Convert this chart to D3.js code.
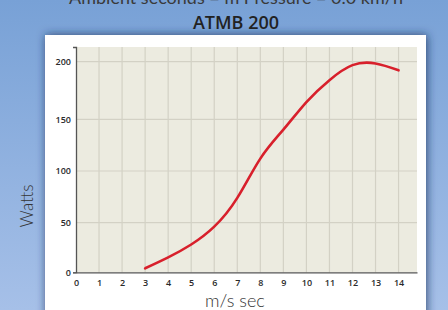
<!DOCTYPE html>
<html>
<head>
<meta charset="utf-8">
<script src="https://cdn.jsdelivr.net/npm/d3@7"></script>
<style>
  html, body { margin: 0; padding: 0; overflow: hidden; }
  svg { display: block; }
</style>
</head>
<body>
<svg id="chart" width="448" height="310"></svg>
<script>
// wind speed (m/s) and power output (W)
const windSpeed = [3, 4, 5, 6, 7, 8, 9, 10, 11, 12, 13, 14];
const watts = [4, 15, 28, 46, 74, 112, 140, 165, 184, 197, 198.5, 192.5];
const xTicks = [0, 1, 2, 3, 4, 5, 6, 7, 8, 9, 10, 11, 12, 13, 14];
const yTicks = [0, 50, 100, 150, 200];

const svg = d3.select('#chart');
const W = 448, H = 310;

const defs = svg.append('defs');
const bg = defs.append('linearGradient')
  .attr('id', 'bg').attr('x1', 0).attr('y1', 0).attr('x2', 0).attr('y2', 1);
bg.append('stop').attr('offset', '0%').attr('stop-color', '#78a1d6');
bg.append('stop').attr('offset', '100%').attr('stop-color', '#a6c0e8');

const shadow = defs.append('filter').attr('id', 'shadow')
  .attr('x', '-20%').attr('y', '-20%').attr('width', '140%').attr('height', '140%');
shadow.append('feDropShadow')
  .attr('dx', 1).attr('dy', 0).attr('stdDeviation', 5)
  .attr('flood-color', '#1d3358').attr('flood-opacity', 0.8);

svg.append('rect').attr('width', W).attr('height', H).attr('fill', 'url(#bg)');

// white panel
svg.append('rect')
  .attr('x', 45).attr('y', 35).attr('width', 381).attr('height', 290)
  .attr('fill', '#ffffff')
  .attr('filter', 'url(#shadow)');

// header line, cut off at the very top like the original
svg.append('text')
  .attr('x', 236).attr('y', 4)
  .attr('text-anchor', 'middle')
  .attr('font-family', 'Lato, sans-serif')
  .attr('font-size', 18)
  .attr('fill', '#3a3a3a')
  .text('Ambient seconds  =  m Pressure  =  0.0 km/h');

svg.append('text')
  .attr('x', 236).attr('y', 29)
  .attr('text-anchor', 'middle')
  .attr('font-family', '"Open Sans", sans-serif')
  .attr('font-weight', 600)
  .attr('font-size', 18)
  .attr('fill', '#222')
  .text('ATMB 200');

const margin = { left: 76, right: 31 };

const x = d3.scaleLinear()
  .domain([0, 14.8])
  .range([margin.left, W - margin.right]);

// the printed grid is slightly uneven, so the scale follows each gridline
const y = d3.scaleLinear()
  .domain([0, 50, 100, 150, 200, 212.5])
  .range([272.3, 222.7, 171, 119.3, 61.7, 47]);

const g = svg.append('g');

g.append('rect')
  .attr('x', x(0)).attr('y', y(212.5))
  .attr('width', x(14.8) - x(0))
  .attr('height', y(0) - y(212.5))
  .attr('fill', '#ecebe0');

g.append('g').selectAll('line')
  .data(xTicks.filter(d => d > 0))
  .join('line')
  .attr('x1', d => x(d)).attr('x2', d => x(d))
  .attr('y1', y(0)).attr('y2', y(212.5))
  .attr('stroke', '#d3d1c5').attr('stroke-width', 1.2);

g.append('g').selectAll('line')
  .data(yTicks.filter(d => d > 0))
  .join('line')
  .attr('x1', x(0)).attr('x2', x(14.8))
  .attr('y1', d => y(d)).attr('y2', d => y(d))
  .attr('stroke', '#d3d1c5').attr('stroke-width', 1.2);

const xAxis = d3.axisBottom(x).tickValues(xTicks).tickSize(0).tickPadding(7);
const yAxis = d3.axisLeft(y).tickValues(yTicks).tickSize(3).tickPadding(2);

const xAxisG = g.append('g')
  .attr('transform', `translate(0,${y(0)})`)
  .call(xAxis);
const yAxisG = g.append('g')
  .attr('transform', `translate(${x(0)},0)`)
  .call(yAxis);

[xAxisG, yAxisG].forEach(a => {
  a.select('.domain').attr('stroke', '#555').attr('stroke-width', 1.3);
  a.selectAll('.tick text')
    .attr('font-family', '"Open Sans", sans-serif')
    .attr('font-weight', 600)
    .attr('font-size', 9)
    .attr('fill', '#2a2a2a');
});
yAxisG.selectAll('.tick line').attr('stroke', d => d === 0 ? '#555' : 'none');

const line = d3.line()
  .x((d, i) => x(windSpeed[i]))
  .y(d => y(d))
  .curve(d3.curveNatural);

g.append('path')
  .datum(watts)
  .attr('d', line)
  .attr('fill', 'none')
  .attr('stroke', '#d8202c')
  .attr('stroke-width', 2.6)
  .attr('stroke-linecap', 'round');

svg.append('text')
  .attr('transform', 'translate(33,206) rotate(-90)')
  .attr('text-anchor', 'middle')
  .attr('font-family', 'Lato, sans-serif')
  .attr('font-weight', 300)
  .attr('font-size', 17)
  .attr('fill', '#333')
  .text('Watts');

svg.append('text')
  .attr('x', 235).attr('y', 307)
  .attr('text-anchor', 'middle')
  .attr('font-family', 'Lato, sans-serif')
  .attr('font-weight', 300)
  .attr('font-size', 18)
  .attr('fill', '#333')
  .text('m/s sec');
</script>
</body>
</html>
